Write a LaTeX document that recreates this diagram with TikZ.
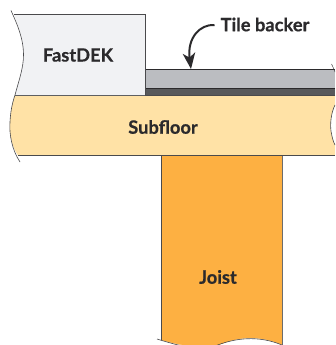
\documentclass[tikz,border=0pt]{standalone}
\usepackage{fontspec}
\setmainfont{Lato}[BoldFeatures={FakeBold=0.6}]
\usetikzlibrary{arrows.meta}
\definecolor{inkc}{HTML}{2B2A2C}
\definecolor{deckc}{HTML}{F1F2F4}
\definecolor{floorc}{HTML}{FFE2A6}
\definecolor{joistc}{HTML}{FDB042}
\definecolor{backerc}{HTML}{BBBDC1}
\definecolor{darkc}{HTML}{58595B}
\definecolor{edgec}{HTML}{4A4A4C}
\tikzset{
  part/.style={draw=edgec,line width=0.8pt},
  partlabel/.style={font=\bfseries\fontsize{18.3}{20}\selectfont,text=inkc,inner sep=0pt},
  callout/.style={draw=inkc,line width=2pt,-{Stealth[length=16pt,width=12.5pt,inset=4.5pt]}}
}
\begin{document}
\begin{tikzpicture}[x=1pt,y=-1pt]
\useasboundingbox (0,0) rectangle (335,345);
\clip (0,0) rectangle (335,345);
% joist
\fill[joistc] (161,155) -- (282,155) -- (282,345) -- (161,345) -- cycle;
\draw[part] (161,155) -- (161,340);
\draw[draw=gray!85!black,line width=1pt] (282,155) -- (282,345);
\fill[white] (157,339) .. controls (180,346) and (205,350) .. (222,344)
  .. controls (240,337) and (258,335) .. (282,345) -- (282,350) -- (157,350) -- cycle;
\draw[part,line width=0.6pt] (157,339) .. controls (165,341.5) and (172,343.5) .. (180,345.5);
\draw[part,line width=0.6pt] (215,346) .. controls (235,338) and (258,335) .. (282,345);
% tile backer and membrane
\fill[backerc] (145,69.5) rectangle (335,88.5);
\fill[darkc] (145,88.5) rectangle (335,95);
\draw[draw=inkc,line width=0.7pt] (145,69.5) -- (335,69.5);
\draw[draw=inkc,line width=0.7pt] (145,88.5) -- (335,88.5);
\draw[part,line width=0.5pt] (331.5,64) .. controls (333,67) and (334,69) .. (335,72);
% subfloor
\fill[floorc] (15,95) -- (335,95) -- (335,155.5) -- (18,155.5)
  .. controls (11,145) and (9,132) .. (10,122) .. controls (10.5,112) and (12,104) .. (15,95) -- cycle;
\fill[white] (335,105) .. controls (331,113) and (330,124) .. (331,131) .. controls (332,137) and (333,141) .. (335,145) -- cycle;
\draw[part,line width=0.6pt] (335,105) .. controls (331,113) and (330,124) .. (331,131) .. controls (332,137) and (333,141) .. (335,145);
\draw[part,line width=0.6pt] (15,95) .. controls (12,104) and (10.5,112) .. (10,122) .. controls (9,134) and (12,150) .. (20,162);
\draw[part] (15,95) -- (335,95);
\draw[part] (18,155.5) -- (335,155.5);
% FastDEK
\fill[deckc] (14,14.5) -- (145,14.5) -- (145,95) -- (15,95)
  .. controls (19,80) and (23.5,68) .. (23.5,55) .. controls (23.5,38) and (18,26) .. (14,14.5) -- cycle;
\draw[part] (14,14.5) -- (145,14.5) -- (145,95);
\draw[part,line width=0.6pt] (11,10.5) .. controls (17,24) and (23.5,38) .. (23.5,55) .. controls (23.5,68) and (19,80) .. (15,95);
% labels
\node[partlabel] (fastdek) at (78,55) {FastDEK};
\node[partlabel] (subfloor) at (163,127) {Subfloor};
\node[partlabel] (joist) at (218,277) {Joist};
\node[partlabel,anchor=west] (tile) at (220.5,24.5) {Tile backer};
\coordinate (tiletop) at (191,69);
\draw[callout] (tile.west) ++(-6,0.5) coordinate (calloutstart) .. controls (200,24) and (187,38) .. (tiletop);
\end{tikzpicture}
\end{document}
